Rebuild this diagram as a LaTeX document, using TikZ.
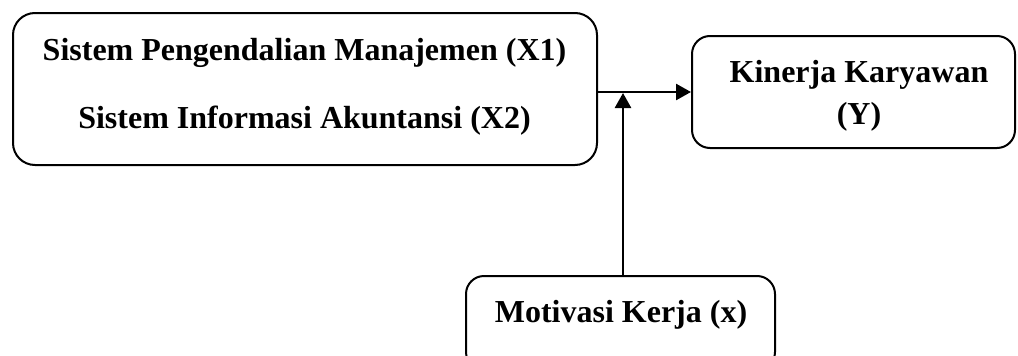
\documentclass[tikz,border=0pt]{standalone}
\usepackage{fontspec}
\setmainfont{Liberation Serif}
\usetikzlibrary{arrows.meta}
\begin{document}
\begin{tikzpicture}[x=1pt,y=-1pt,
  boxstyle/.style={draw=black, line width=2pt, inner sep=0pt, fill=none},
  lbl/.style={anchor=base, inner sep=0pt, font=\fontsize{32}{36}\selectfont\bfseries},
  arr/.style={line width=2.6pt, -{Triangle[length=15pt,width=16pt]}}]
\useasboundingbox (0,0) rectangle (1018,356);
\clip (0,0) rectangle (1018,356);
% boxes
\node[boxstyle, rounded corners=22pt, minimum width=584pt, minimum height=152pt] (L) at (305,89) {};
\node[boxstyle, rounded corners=18pt, minimum width=323pt, minimum height=112pt] (R) at (853.5,92) {};
\node[boxstyle, rounded corners=18pt, minimum width=309pt, minimum height=94pt] (B) at (620.5,323) {};
% texts
\node[lbl] (t1) at (304.5,60) {Sistem Pengendalian Manajemen (X1)};
\node[lbl] (t2) at (304.5,128) {Sistem Informasi Akuntansi (X2)};
\node[lbl] (t3) at (859,82) {Kinerja Karyawan};
\node[lbl] (t4) at (859,124) {(Y)};
\node[lbl] (t5) at (621,322) {Motivasi Kerja (x)};
% connectors
\coordinate (J) at (623,92);
\draw[arr] (L.east |- R.west) -- (R.west);
\draw[arr, shorten >=1pt] (B.north -| J) -- (J);
\end{tikzpicture}
\end{document}
